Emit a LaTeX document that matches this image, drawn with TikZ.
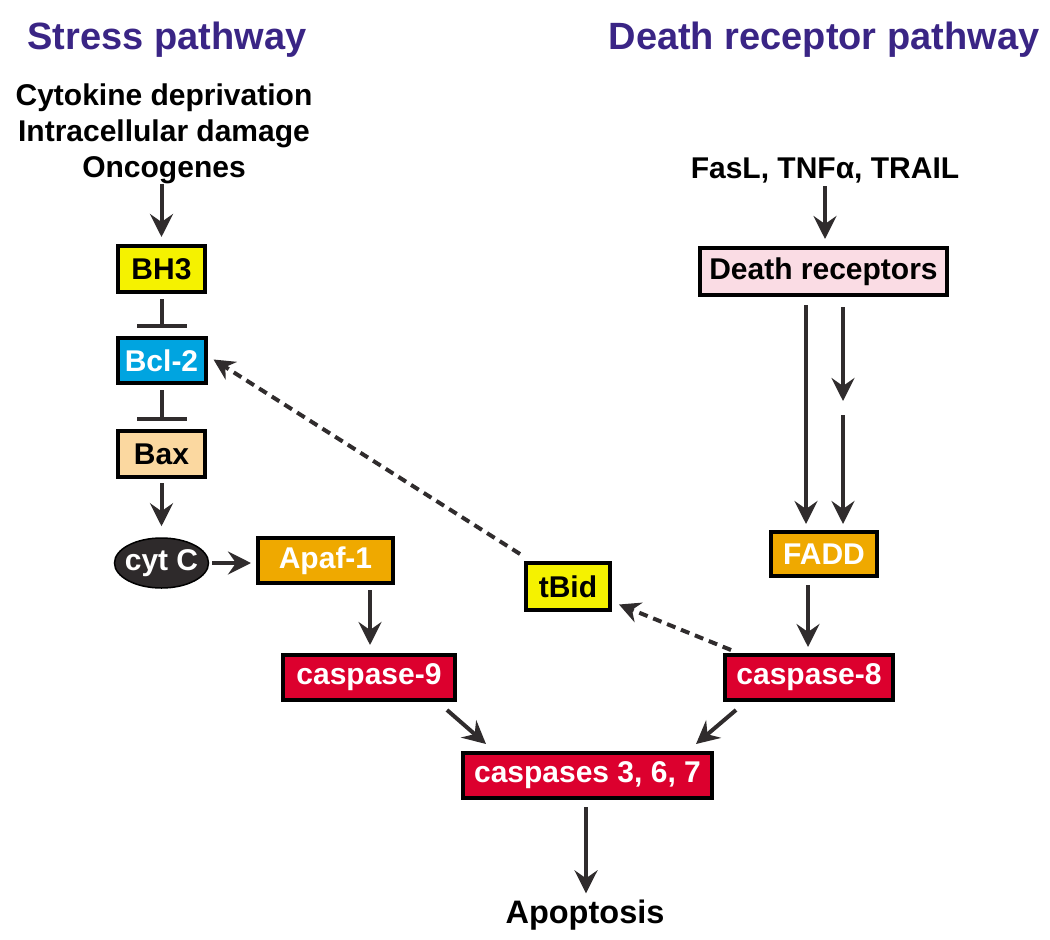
\documentclass[tikz,border=0pt]{standalone}
\usepackage{fontspec}
\setmainfont{Liberation Sans}
\usetikzlibrary{arrows.meta,calc,shapes.geometric}
\definecolor{ttl}{HTML}{3A2585}
\definecolor{ln}{HTML}{302C2D}
\definecolor{yel}{HTML}{F5F200}
\definecolor{blu}{HTML}{00A4E0}
\definecolor{bax}{HTML}{FBD8A0}
\definecolor{org}{HTML}{EFA900}
\definecolor{rd}{HTML}{DC002E}
\definecolor{pnk}{HTML}{FADCE4}
\definecolor{cyt}{HTML}{2E2A2B}
\begin{document}
\begin{tikzpicture}[x=1pt,y=-1pt,
  box/.style={draw=black,line width=4pt,inner sep=0pt,font=\fontsize{30}{32}\selectfont\bfseries},
  title/.style={text=ttl,font=\fontsize{38}{40}\selectfont\bfseries},
  lbl/.style={font=\fontsize{30}{36}\selectfont\bfseries,align=center},
  arr/.style={draw=ln,line width=4pt,-{Stealth[length=23pt,width=23pt,inset=8pt]}},
  inh/.style={draw=ln,line width=4pt,-{Bar[width=50pt,line width=4pt]}},
  darr/.style={draw=ln,line width=4pt,dash pattern=on 9pt off 6pt,-{Stealth[length=21pt,width=21pt,inset=7pt]}}]
\useasboundingbox (0,0) rectangle (1050,940);
\node[title] (t1) at (167,40) {Stress pathway};
\node[title] (t2) at (824,40) {Death receptor pathway};
\node[lbl] (stim) at (164,134) {Cytokine deprivation\\Intracellular damage\\Oncogenes};
\node[lbl] (fas) at (825,170) {FasL, TNFα, TRAIL};
\node[box,fill=yel,minimum width=87pt,minimum height=46pt] (bh3) at (161.5,269) {BH3};
\node[box,fill=blu,text=white,minimum width=88pt,minimum height=45pt] (bcl) at (161.5,360.5) {Bcl-2};
\node[box,fill=bax,minimum width=87pt,minimum height=46pt] (bax) at (161.5,454) {Bax};
\node[ellipse,draw=black,line width=1.5pt,fill=cyt,text=white,inner sep=0pt,minimum width=94pt,minimum height=50pt,font=\fontsize{30}{32}\selectfont\bfseries] (cyt) at (161.5,563) {\makebox[0pt]{cyt C}};
\node[box,fill=org,text=white,minimum width=135pt,minimum height=45pt] (apaf) at (325.5,560.5) {Apaf-1};
\node[box,fill=rd,text=white,minimum width=172pt,minimum height=45pt] (c9) at (369,677.5) {caspase-9};
\node[box,fill=rd,text=white,minimum width=249pt,minimum height=45pt] (c3) at (587.5,775.5) {caspases 3, 6, 7};
\node[box,fill=rd,text=white,minimum width=168pt,minimum height=45pt] (c8) at (809,677.5) {caspase-8};
\node[box,fill=org,text=white,minimum width=106pt,minimum height=44pt] (fadd) at (824,554) {FADD};
\node[box,fill=yel,minimum width=84pt,minimum height=47pt] (tbid) at (568,586.5) {tBid};
\node[box,fill=pnk,minimum width=247pt,minimum height=47pt] (dr) at (823.5,271.5) {Death receptors};
\node[lbl,font=\fontsize{32.5}{36}\selectfont\bfseries] (apo) at (585,915) {Apoptosis};
% connectors
\draw[arr] ($(bh3.north)+(0,-60)$) -- ($(bh3.north)+(0,-7)$);
\draw[inh] ($(bh3.south)+(0,5)$) -- ($(bcl.north)+(0,-8)$);
\draw[inh] ($(bcl.south)+(0,5)$) -- ($(bax.north)+(0,-8)$);
\draw[arr] ($(bax.south)+(0,4)$) -- ($(cyt.north)+(0,-11)$);
\draw[arr] ($(cyt.east)+(3,0)$) -- ($(apaf.west)+(-5,2.5)$);
\draw[arr] ($(apaf.south)+(44.5,5)$) -- ($(c9.north)+(1,-8)$);
\draw[arr] ($(c9.south east)+(-10,8)$) -- ($(c3.north west)+(25,-7)$);
\draw[arr] ($(c8.south west)+(13,8)$) -- ($(c3.north east)+(-18,-7)$);
\draw[arr] ($(c3.south)+(-1.5,7)$) -- ($(apo.north)+(1,-3)$);
\draw[arr] ($(dr.north)+(1.5,-60)$) -- ($(dr.north)+(1.5,-7)$);
\draw[arr] ($(dr.south)+(-17.5,8)$) -- ($(fadd.north)+(-18,-6)$);
\coordinate (mid1) at ($(dr.south)+(19.5,104)$);
\coordinate (mid2) at ($(dr.south)+(19.5,118)$);
\draw[arr] ($(dr.south)+(19.5,10)$) -- (mid1);
\draw[arr] (mid2) -- ($(fadd.north)+(19,-6)$);
\draw[arr] ($(fadd.south)+(-16,7)$) -- ($(c8.north)+(-1,-6)$);
\draw[darr] ($(c8.north west)+(8,-3)$) -- ($(tbid.east)+(7,18)$);
\draw[darr] ($(tbid.north)+(-48,-7)$) -- ($(bcl.east)+(6,-1)$);
\end{tikzpicture}
\end{document}
